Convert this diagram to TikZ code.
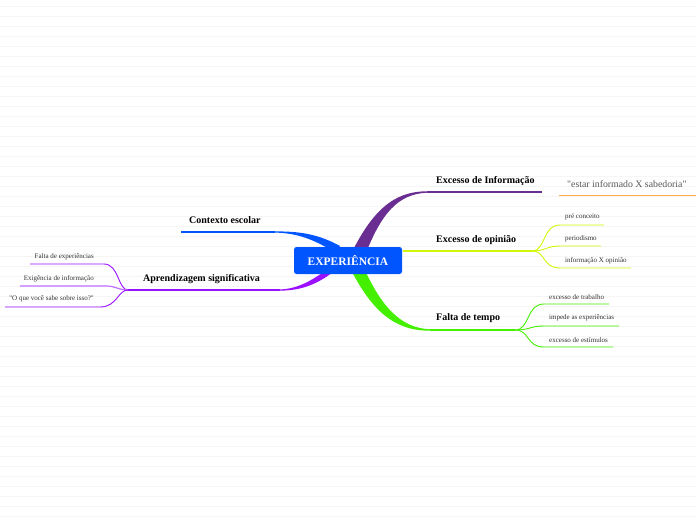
\documentclass[tikz,border=0pt]{standalone}
\usepackage{fontspec}
\setmainfont{Liberation Serif}
\usetikzlibrary{calc}
\definecolor{expblue}{HTML}{0055FF}
\definecolor{infocol}{HTML}{6A2D91}
\definecolor{opincol}{HTML}{D2F708}
\definecolor{tempocol}{HTML}{44F000}
\definecolor{aprendcol}{HTML}{9A10FF}
\definecolor{notecol}{HTML}{FFAA4C}
\definecolor{gridcol}{HTML}{F5F5F5}
\begin{document}
\begin{tikzpicture}[x=1pt,y=-1pt,
  topic/.style={font=\fontsize{10}{12}\selectfont\bfseries, inner sep=0pt},
  leaf/.style={font=\fontsize{7}{8}\selectfont, text=black!80, inner sep=0pt},
  twig/.style={line width=0.9pt}]
\useasboundingbox (0,0) rectangle (696,520);
\fill[white] (0,0) rectangle (696,520);
\foreach \y in {6,16,...,516}
  \draw[gridcol, line width=0.8pt] (0,\y) -- (696,\y);

% end points of the branches
\coordinate (infoA) at (427,192);
\coordinate (infoB) at (542,192);
\coordinate (opinA) at (403,251);
\coordinate (opinB) at (532,251);
\coordinate (tempoA) at (430,330);
\coordinate (tempoB) at (515,330);
\coordinate (contA) at (275,232);
\coordinate (contB) at (181,232);
\coordinate (aprA) at (280,290);
\coordinate (aprB) at (128,290);

% tapered branches
\fill[infocol] (349,258) .. controls (372,210) and (394,191.3) .. ($(infoA)+(0,-0.7)$)
  -- ($(infoA)+(0,0.7)$) .. controls (398,194) and (381,213) .. (364,258) -- cycle;
\fill[tempocol] (349,266) .. controls (372,312) and (395,330.8) .. ($(tempoA)+(0,0.7)$)
  -- ($(tempoA)+(0,-0.7)$) .. controls (400,328) and (381,306) .. (363,266) -- cycle;
\fill[expblue] (340,246) .. controls (318,234) and (300,231.3) .. ($(contA)+(0,-0.6)$)
  -- ($(contA)+(0,0.6)$) .. controls (298,233) and (315,240) .. (336,253) -- cycle;
\fill[aprendcol] (338,268) .. controls (318,285) and (300,290.7) .. ($(aprA)+(0,0.6)$)
  -- ($(aprA)+(0,-0.6)$) .. controls (298,289) and (314,280) .. (334,264) -- cycle;

\draw[infocol, line width=1.3pt] (infoA) -- (infoB);
\draw[tempocol, line width=1.3pt] (tempoA) -- (tempoB);
\draw[expblue, line width=1.3pt] (contA) -- (contB);
\draw[aprendcol, line width=1.3pt] (aprA) -- (aprB);
\draw[opincol, line width=1.6pt] (opinA) -- (opinB);

% central topic
\node[fill=expblue, rounded corners=2.5pt, minimum width=108pt, minimum height=27pt,
  text=white, font=\fontsize{11.5}{13}\selectfont\bfseries] (exp) at (348,260.5) {EXPERIÊNCIA};

% main topics
\node[topic, anchor=west] (info) at (436,181) {Excesso de Informação};
\node[topic, anchor=west] (opin) at (436,240) {Excesso de opinião};
\node[topic, anchor=west] (tempo) at (436,318) {Falta de tempo};
\node[topic, anchor=west] (contexto) at (189,220) {Contexto escolar};
\node[topic, anchor=west] (aprend) at (143,279) {Aprendizagem significativa};

% note
\node[font=\fontsize{9.8}{11}\selectfont, text=black!65, inner sep=0pt, anchor=west] (nota) at (567,184) {\textquotedbl estar informado X sabedoria\textquotedbl};
\coordinate (notaA) at (559,195);
\coordinate (notaB) at (696,195);
\draw[notecol, line width=1pt] (notaA) -- (notaB);

% leaves of Excesso de opiniao
\node[leaf, anchor=west] (preconc) at (565,217) {pré conceito};
\node[leaf, anchor=west] (period) at (565,239) {periodismo};
\node[leaf, anchor=west] (infopin) at (565,261) {informação X opinião};
\draw[opincol, twig] (opinB) .. controls (546,251) and (542,225) .. (560,225) -- (604,225);
\draw[opincol, twig] (opinB) .. controls (546,251) and (546,246) .. (560,246) -- (601,246);
\draw[opincol, twig] (opinB) .. controls (546,251) and (542,268) .. (560,268) -- (631,268);

% leaves of Falta de tempo
\node[leaf, anchor=west] (trabalho) at (549,297) {excesso de trabalho};
\node[leaf, anchor=west] (impede) at (549,318) {impede as experiências};
\node[leaf, anchor=west] (estimulos) at (549,340) {excesso de estímulos};
\draw[tempocol, twig] (tempoB) .. controls (530,330) and (526,304) .. (544,304) -- (609,304);
\draw[tempocol, twig] (tempoB) .. controls (530,330) and (530,326) .. (544,326) -- (619,326);
\draw[tempocol, twig] (tempoB) .. controls (530,330) and (526,347) .. (544,347) -- (613,347);

% leaves of Aprendizagem significativa
\node[leaf, anchor=east] (faltaexp) at (94,257) {Falta de experiências};
\node[leaf, anchor=east] (exigencia) at (94,279) {Exigência de informação};
\node[leaf, anchor=east] (oque) at (94,299) {\textquotedbl O que você sabe sobre isso?\textquotedbl};
\draw[aprendcol, twig] (aprB) .. controls (118,290) and (119,264) .. (104,264) -- (30,264);
\draw[aprendcol!60, line width=1.2pt] (aprB) .. controls (118,290) and (116,286) .. (106,286) -- (20,286);
\draw[aprendcol, twig] (aprB) .. controls (118,290) and (117,307) .. (100,307) -- (5,307);
\end{tikzpicture}
\end{document}
